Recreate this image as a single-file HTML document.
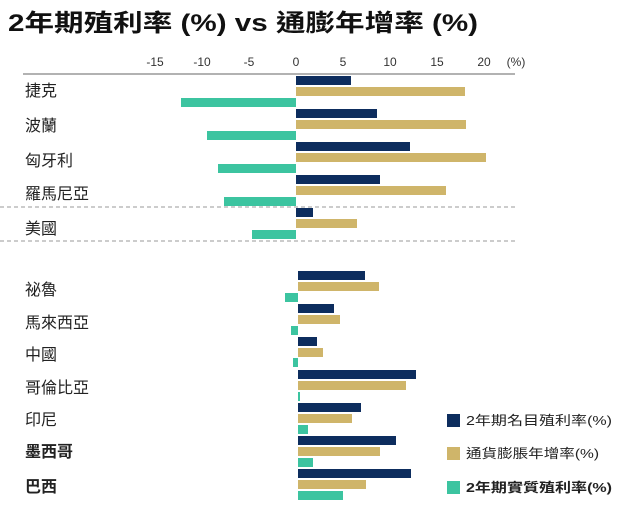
<!DOCTYPE html>
<html><head><meta charset="utf-8"><style>
body{margin:0;background:#fff;}
svg{display:block;font-family:"Liberation Sans","Noto Sans CJK TC",sans-serif;}
</style></head><body>
<svg width="640" height="509" viewBox="0 0 640 509">
<text x="8" y="31" font-size="24" font-weight="bold" fill="#111" textLength="470" lengthAdjust="spacingAndGlyphs">2年期殖利率 (%) vs 通膨年增率 (%)</text>
<g font-size="12" fill="#333" text-anchor="middle">
<text x="155" y="66">-15</text><text x="202" y="66">-10</text><text x="249" y="66">-5</text>
<text x="296" y="66">0</text><text x="343" y="66">5</text><text x="390" y="66">10</text>
<text x="437" y="66">15</text><text x="484" y="66">20</text><text x="516" y="66">(%)</text>
</g>
<line x1="23" y1="74" x2="515" y2="74" stroke="#999" stroke-width="1.5"/>
<line x1="0" y1="207" x2="515" y2="207" stroke="#999" stroke-dasharray="4,3"/>
<line x1="0" y1="241" x2="515" y2="241" stroke="#999" stroke-dasharray="4,3"/>
<g fill="#0d2d5e">
<rect x="296" y="76" width="55" height="9"/><rect x="296" y="109" width="81" height="9"/>
<rect x="296" y="142" width="114" height="9"/><rect x="296" y="175" width="84" height="9"/>
<rect x="296" y="208" width="17" height="9"/>
<rect x="298" y="271" width="67" height="9"/><rect x="298" y="304" width="36" height="9"/>
<rect x="298" y="337" width="19" height="9"/><rect x="298" y="370" width="118" height="9"/>
<rect x="298" y="403" width="63" height="9"/><rect x="298" y="436" width="98" height="9"/>
<rect x="298" y="469" width="113" height="9"/>
</g>
<g fill="#cfb56a">
<rect x="296" y="87" width="169" height="9"/><rect x="296" y="120" width="170" height="9"/>
<rect x="296" y="153" width="190" height="9"/><rect x="296" y="186" width="150" height="9"/>
<rect x="296" y="219" width="61" height="9"/>
<rect x="298" y="282" width="81" height="9"/><rect x="298" y="315" width="42" height="9"/>
<rect x="298" y="348" width="25" height="9"/><rect x="298" y="381" width="108" height="9"/>
<rect x="298" y="414" width="54" height="9"/><rect x="298" y="447" width="82" height="9"/>
<rect x="298" y="480" width="68" height="9"/>
</g>
<g fill="#3cc4a0">
<rect x="181" y="98" width="115" height="9"/><rect x="207" y="131" width="89" height="9"/>
<rect x="218" y="164" width="78" height="9"/><rect x="224" y="197" width="72" height="9"/>
<rect x="252" y="230" width="44" height="9"/>
<rect x="285" y="293" width="13" height="9"/><rect x="291" y="326" width="7" height="9"/>
<rect x="293" y="358" width="5" height="9"/><rect x="298" y="392" width="2" height="9"/>
<rect x="298" y="425" width="10" height="9"/><rect x="298" y="458" width="15" height="9"/>
<rect x="298" y="491" width="45" height="9"/>
</g>
<g font-size="16" fill="#222">
<text x="25" y="96">捷克</text><text x="25" y="131">波蘭</text><text x="25" y="166">匈牙利</text>
<text x="25" y="199">羅馬尼亞</text><text x="25" y="234">美國</text>
<text x="25" y="295">祕魯</text><text x="25" y="328">馬來西亞</text><text x="25" y="360">中國</text>
<text x="25" y="393">哥倫比亞</text><text x="25" y="425">印尼</text>
<text x="25" y="457" font-weight="bold">墨西哥</text><text x="25" y="492" font-weight="bold">巴西</text>
</g>
<rect x="447" y="414" width="13" height="13" fill="#0d2d5e"/>
<rect x="447" y="447" width="13" height="13" fill="#cfb56a"/>
<rect x="447" y="481" width="13" height="13" fill="#3cc4a0"/>
<g font-size="13" fill="#222">
<text x="466" y="425" textLength="146" lengthAdjust="spacingAndGlyphs">2年期名目殖利率(%)</text>
<text x="466" y="458" textLength="133" lengthAdjust="spacingAndGlyphs">通貨膨脹年增率(%)</text>
<text x="466" y="492" font-weight="bold" textLength="146" lengthAdjust="spacingAndGlyphs">2年期實質殖利率(%)</text>
</g>
</svg>
</body></html>
